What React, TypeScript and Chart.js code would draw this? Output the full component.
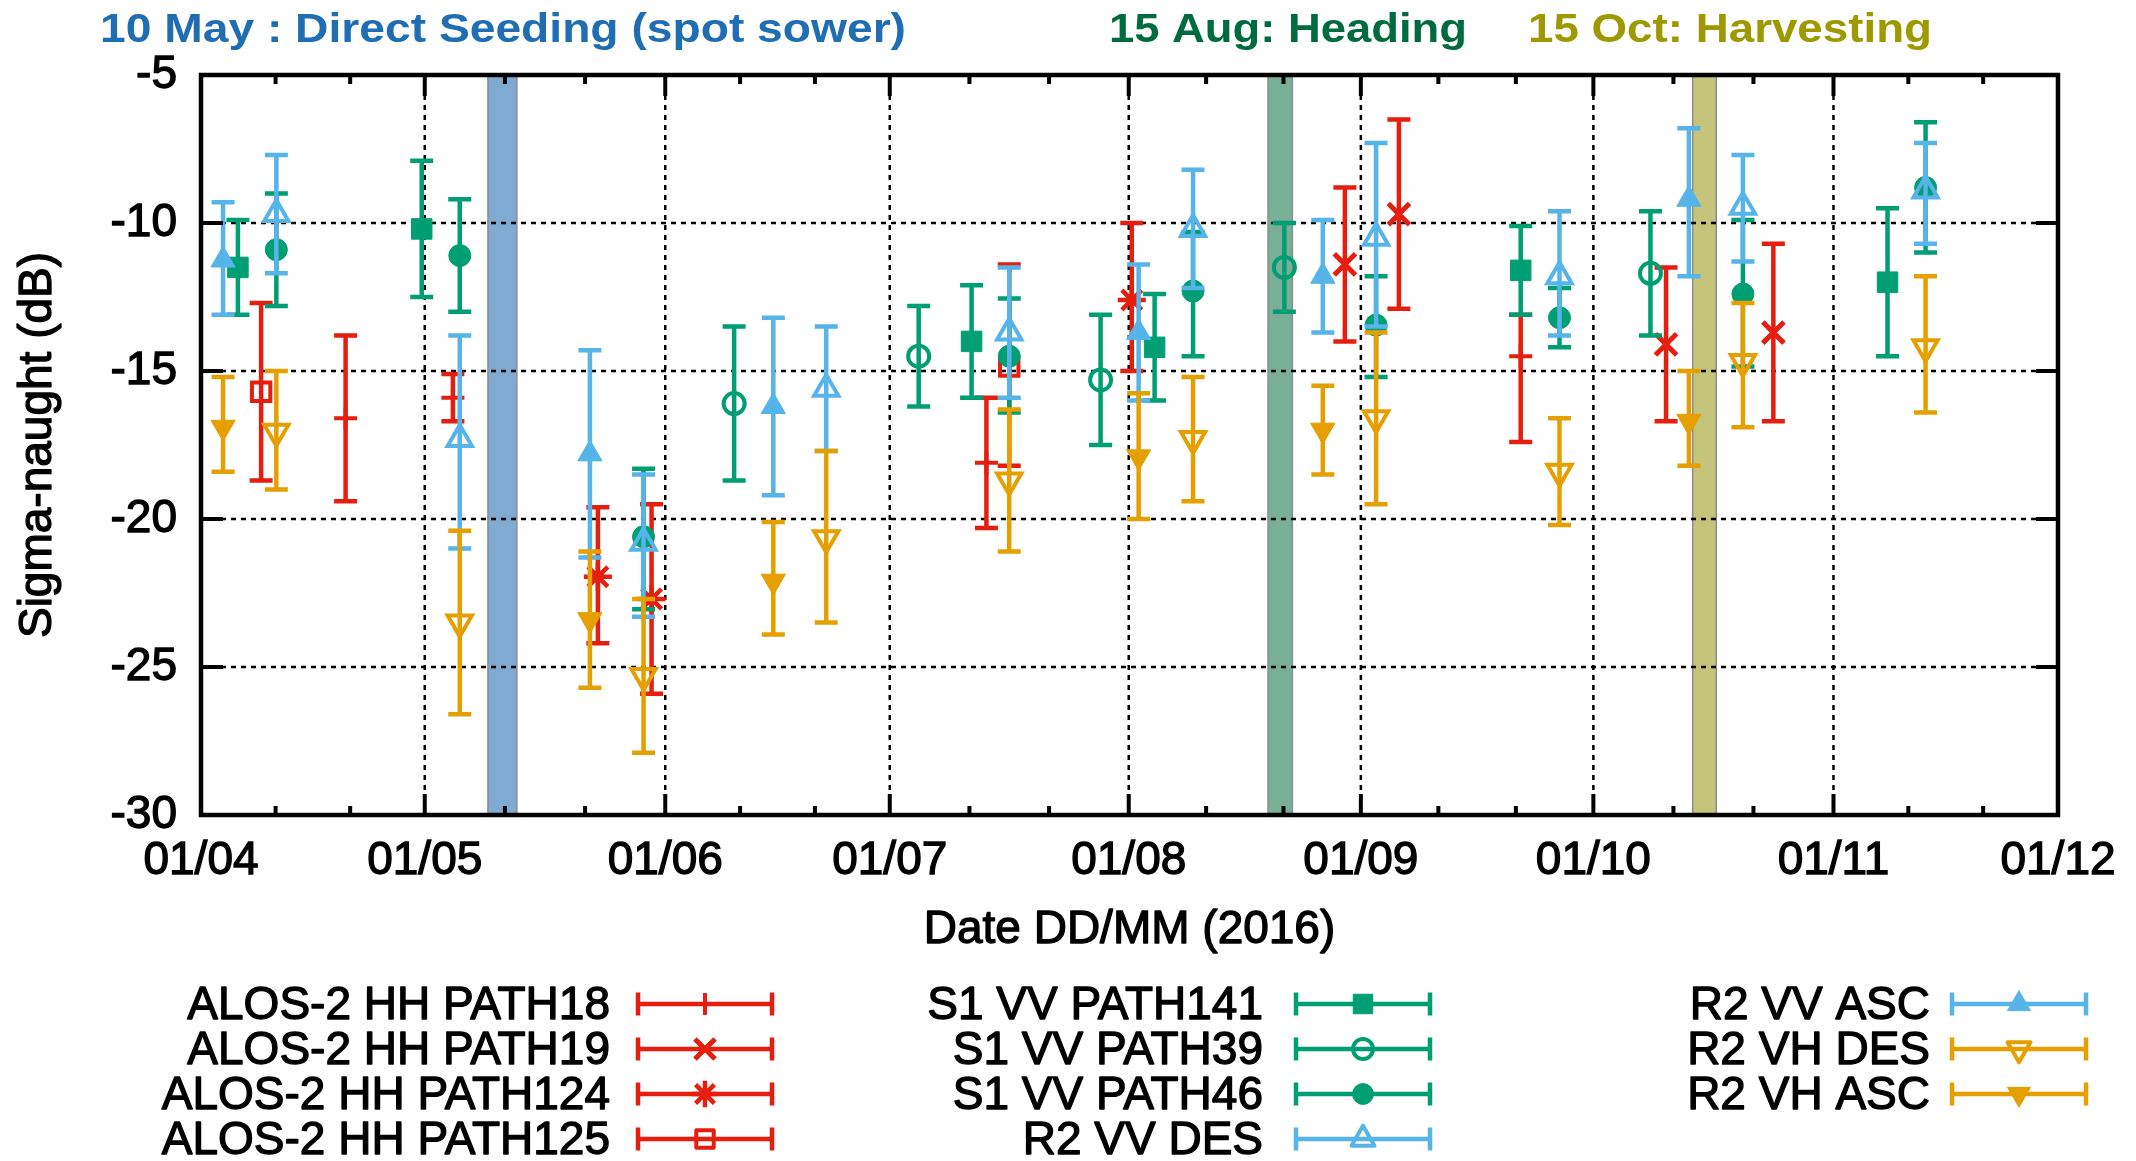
import React, { useEffect, useRef } from 'react';
import { Chart, registerables } from 'chart.js';
import { drawPoint } from 'chart.js/helpers';

Chart.register(...registerables);

// ---------- axis definitions (x in days after 01/04/2016) ----------
const monthTickDay = [0, 29.4, 61.0, 90.5, 121.9, 152.4, 182.95, 214.5, 244];
const monthTickLabels = ['01/04', '01/05', '01/06', '01/07', '01/08', '01/09', '01/10', '01/11', '01/12'];
const yMin = -30;
const yMax = -5;
const yStep = 5;
const xTitle = 'Date DD/MM (2016)';
const yTitle = 'Sigma-naught (dB)';

// ---------- crop-stage bands ----------
const bandStartDay = [37.7, 140.2, 196.0];
const bandEndDay = [41.5, 143.4, 199.1];
const phaseTexts = ['10 May : Direct Seeding (spot sower)', '15 Aug: Heading', '15 Oct: Harvesting'];

// ---------- series data ----------
// ALOS-2 HH PATH18
const p18Day = [19.0, 33.1, 103.2, 173.4];
const p18Mean = [-16.6, -15.9, -18.1, -14.5];
const p18High = [-13.8, -15.1, -15.9, -13.1];
const p18Low = [-19.4, -16.7, -20.3, -17.4];
// ALOS-2 HH PATH19
const p19Day = [150.3, 157.4, 192.5, 206.6];
const p19Mean = [-11.4, -9.7, -14.1, -13.7];
const p19High = [-8.8, -6.5, -11.5, -10.7];
const p19Low = [-14.0, -12.9, -16.7, -16.7];
// ALOS-2 HH PATH124
const p124Day = [52.15, 59.2, 122.3];
const p124Mean = [-21.95, -22.7, -12.6];
const p124High = [-19.6, -19.5, -10.0];
const p124Low = [-24.2, -25.9, -15.0];
// ALOS-2 HH PATH125
const p125Day = [7.9, 106.2];
const p125Mean = [-15.7, -14.85];
const p125High = [-12.7, -11.4];
const p125Low = [-18.7, -18.2];
// S1 VV PATH141
const s141Day = [4.85, 29.0, 101.25, 125.3, 173.4, 221.6];
const s141Mean = [-11.5, -10.2, -14.0, -14.2, -11.6, -12.0];
const s141High = [-9.9, -7.9, -12.1, -12.4, -10.1, -9.5];
const s141Low = [-13.1, -12.5, -15.9, -16.0, -13.1, -14.5];
// S1 VV PATH39
const s39Day = [70.05, 94.3, 118.2, 142.35, 190.45];
const s39Mean = [-16.1, -14.5, -15.3, -11.5, -11.7];
const s39High = [-13.5, -12.8, -13.1, -10.0, -9.6];
const s39Low = [-18.7, -16.2, -17.5, -13.0, -13.8];
// S1 VV PATH46
const s46Day = [9.9, 34.0, 58.15, 106.2, 130.35, 154.4, 178.5, 202.6, 226.6];
const s46Mean = [-10.9, -11.1, -20.6, -14.5, -12.3, -13.45, -13.2, -12.4, -8.8];
const s46High = [-9.0, -9.2, -18.3, -12.55, -10.3, -11.8, -12.2, -9.9, -6.6];
const s46Low = [-12.8, -13.0, -23.05, -16.4, -14.5, -15.2, -14.2, -14.85, -11.0];
// R2 descending pass (VV and VH share dates)
const r2DesDay = [9.9, 34.0, 58.15, 82.15, 106.2, 130.35, 154.4, 178.5, 202.6, 226.6];
const vvDesMean = [-9.7, -17.3, -20.8, -15.6, -13.7, -10.2, -10.5, -11.8, -9.45, -8.9];
const vvDesHigh = [-7.7, -13.8, -18.5, -13.5, -11.5, -8.2, -7.3, -9.6, -7.7, -7.3];
const vvDesLow = [-11.7, -21.0, -23.3, -17.7, -15.9, -12.2, -13.5, -13.8, -11.3, -10.7];
const vhDesMean = [-17.05, -23.5, -25.3, -20.65, -18.7, -17.3, -16.6, -18.4, -14.7, -14.2];
const vhDesHigh = [-15.0, -20.4, -22.7, -17.7, -16.3, -15.2, -13.7, -16.6, -12.7, -11.8];
const vhDesLow = [-19.0, -26.6, -27.9, -23.5, -21.1, -19.4, -19.5, -20.2, -16.9, -16.4];
// R2 ascending pass (VV and VH share dates)
const r2AscDay = [2.9, 51.1, 75.2, 123.2, 147.4, 195.5];
const vvAscMean = [-11.25, -17.8, -16.2, -13.7, -11.8, -9.2];
const vvAscHigh = [-9.3, -14.3, -13.2, -11.4, -9.9, -6.8];
const vvAscLow = [-13.1, -21.3, -19.2, -16.0, -13.7, -11.8];
const vhAscMean = [-16.9, -23.4, -22.1, -17.9, -17.0, -16.7];
const vhAscHigh = [-15.2, -21.1, -20.1, -15.75, -15.5, -15.0];
const vhAscLow = [-18.4, -25.7, -23.9, -20.0, -18.5, -18.2];

// ---------- styles ----------
const RED = '#E51E10';
const GREEN = '#009E73';
const SKY = '#56B4E9';
const ORANGE = '#E69F00';
const bandColors = ['#7FAAD1', '#78AF96', '#C4C47B'];
const phaseColors = ['#1F6DB3', '#006B3F', '#9C9A00'];
const FONT = '"Liberation Sans", Arial, sans-serif';

const series = [
  { label: 'ALOS-2 HH PATH18', days: p18Day, mean: p18Mean, low: p18Low, high: p18High, color: RED, style: 'cross', radius: 11.5, filled: false, rot: 0, bw: 4 },
  { label: 'ALOS-2 HH PATH19', days: p19Day, mean: p19Mean, low: p19Low, high: p19High, color: RED, style: 'crossRot', radius: 15, filled: false, rot: 0, bw: 5 },
  { label: 'ALOS-2 HH PATH124', days: p124Day, mean: p124Mean, low: p124Low, high: p124High, color: RED, style: 'star', radius: 14, filled: false, rot: 0, bw: 4.5 },
  { label: 'ALOS-2 HH PATH125', days: p125Day, mean: p125Mean, low: p125Low, high: p125High, color: RED, style: 'rect', radius: 13, filled: false, rot: 0, bw: 4 },
  { label: 'S1 VV PATH141', days: s141Day, mean: s141Mean, low: s141Low, high: s141High, color: GREEN, style: 'rect', radius: 14.5, filled: true, rot: 0, bw: 1 },
  { label: 'S1 VV PATH39', days: s39Day, mean: s39Mean, low: s39Low, high: s39High, color: GREEN, style: 'circle', radius: 10.5, filled: false, rot: 0, bw: 4 },
  { label: 'S1 VV PATH46', days: s46Day, mean: s46Mean, low: s46Low, high: s46High, color: GREEN, style: 'circle', radius: 11, filled: true, rot: 0, bw: 1 },
  { label: 'R2 VV DES', days: r2DesDay, mean: vvDesMean, low: vvDesLow, high: vvDesHigh, color: SKY, style: 'triangle', radius: 14, filled: false, rot: 0, bw: 4 },
  { label: 'R2 VV ASC', days: r2AscDay, mean: vvAscMean, low: vvAscLow, high: vvAscHigh, color: SKY, style: 'triangle', radius: 14, filled: true, rot: 0, bw: 1 },
  { label: 'R2 VH DES', days: r2DesDay, mean: vhDesMean, low: vhDesLow, high: vhDesHigh, color: ORANGE, style: 'triangle', radius: 14, filled: false, rot: 180, bw: 4 },
  { label: 'R2 VH ASC', days: r2AscDay, mean: vhAscMean, low: vhAscLow, high: vhAscHigh, color: ORANGE, style: 'triangle', radius: 14, filled: true, rot: 180, bw: 1 },
];

// ---------- layout constants ----------
const CAP = 11.5;
const BAR_W = 4.5;
const TEXT_STROKE = 1.3;
const legendCols = [[0, 1, 2, 3], [4, 5, 6, 7], [8, 9, 10]];
const legendTextRight = [610, 1263, 1930];
const legendSampleStart = [638, 1296, 1952];
const legendSampleLen = 134;
const legendRowY = [1004, 1049, 1094, 1139];
const legendMarkerScale = 0.95;
const phaseX = [100, 1109, 1528];
const phaseW = [806, 358, 404];
const phaseBaseline = 42;

const boldText = (ctx: CanvasRenderingContext2D, txt: string, x: number, y: number) => {
  ctx.lineWidth = TEXT_STROKE;
  ctx.lineJoin = 'round';
  ctx.strokeStyle = ctx.fillStyle as string;
  ctx.strokeText(txt, x, y);
  ctx.fillText(txt, x, y);
};

const framePlugin = {
  id: 'gnuframe',
  beforeDatasetsDraw(chart: any) {
    const { ctx, chartArea: a, scales } = chart;
    const xs = scales.x;
    const ys = scales.y;
    ctx.save();
    bandStartDay.forEach((s, i) => {
      const x1 = xs.getPixelForValue(s);
      const x2 = xs.getPixelForValue(bandEndDay[i]);
      ctx.fillStyle = bandColors[i];
      ctx.fillRect(x1, a.top, x2 - x1, a.bottom - a.top);
      ctx.strokeStyle = '#8c8c8c';
      ctx.lineWidth = 1.5;
      ctx.strokeRect(x1, a.top, x2 - x1, a.bottom - a.top);
    });
    ctx.strokeStyle = '#000';
    ctx.lineWidth = 2.5;
    ctx.setLineDash([5, 5]);
    xs.ticks.forEach((t: any) => {
      const px = xs.getPixelForValue(t.value);
      if (px <= a.left + 2 || px >= a.right - 2) return;
      ctx.beginPath();
      ctx.moveTo(px, a.top);
      ctx.lineTo(px, a.bottom);
      ctx.stroke();
    });
    ys.ticks.forEach((t: any) => {
      const py = ys.getPixelForValue(t.value);
      if (py <= a.top + 2 || py >= a.bottom - 2) return;
      ctx.beginPath();
      ctx.moveTo(a.left, py);
      ctx.lineTo(a.right, py);
      ctx.stroke();
    });
    ctx.restore();
  },
  beforeDatasetDraw(chart: any, args: any) {
    const ds = chart.data.datasets[args.index];
    const { ctx, scales } = chart;
    const xs = scales.x;
    const ys = scales.y;
    ctx.save();
    ctx.strokeStyle = ds.borderColor;
    ctx.lineWidth = BAR_W;
    ctx.lineCap = 'butt';
    ds.data.forEach((p: any) => {
      const px = xs.getPixelForValue(p.x);
      const yh = ys.getPixelForValue(p.hi);
      const yl = ys.getPixelForValue(p.lo);
      ctx.beginPath();
      ctx.moveTo(px, yh);
      ctx.lineTo(px, yl);
      ctx.moveTo(px - CAP, yh);
      ctx.lineTo(px + CAP, yh);
      ctx.moveTo(px - CAP, yl);
      ctx.lineTo(px + CAP, yl);
      ctx.stroke();
    });
    ctx.restore();
  },
  afterDraw(chart: any) {
    const { ctx, chartArea: a, scales } = chart;
    const xs = scales.x;
    const ys = scales.y;
    ctx.save();
    // frame
    ctx.strokeStyle = '#000';
    ctx.lineWidth = 4.5;
    ctx.strokeRect(a.left, a.top, a.right - a.left, a.bottom - a.top);
    // ticks (inward, mirrored)
    ctx.lineWidth = 4;
    const majors = xs.ticks.map((t: any) => xs.getPixelForValue(t.value));
    const vline = (px: number, len: number) => {
      ctx.beginPath();
      ctx.moveTo(px, a.bottom);
      ctx.lineTo(px, a.bottom - len);
      ctx.moveTo(px, a.top);
      ctx.lineTo(px, a.top + len);
      ctx.stroke();
    };
    majors.forEach((px: number, i: number) => {
      vline(px, 21);
      if (i < majors.length - 1) {
        const step = (majors[i + 1] - px) / 3;
        vline(px + step, 9);
        vline(px + 2 * step, 9);
      }
    });
    ys.ticks.forEach((t: any) => {
      const py = ys.getPixelForValue(t.value);
      ctx.beginPath();
      ctx.moveTo(a.left, py);
      ctx.lineTo(a.left + 22, py);
      ctx.moveTo(a.right, py);
      ctx.lineTo(a.right - 22, py);
      ctx.stroke();
    });
    // phase annotations
    ctx.textBaseline = 'alphabetic';
    ctx.textAlign = 'left';
    phaseTexts.forEach((txt, i) => {
      ctx.font = 'bold 40px "Liberation Sans Narrow", "Liberation Sans", Arial, sans-serif';
      const w = ctx.measureText(txt).width;
      ctx.save();
      ctx.translate(phaseX[i], phaseBaseline);
      ctx.scale(phaseW[i] / w, 1);
      ctx.fillStyle = phaseColors[i];
      ctx.fillText(txt, 0, 0);
      ctx.restore();
    });
    // axis titles
    ctx.fillStyle = '#000';
    ctx.font = `46px ${FONT}`;
    ctx.textAlign = 'center';
    ctx.textBaseline = 'middle';
    boldText(ctx, xTitle, (a.left + a.right) / 2, 930);
    ctx.save();
    ctx.translate(38, (a.top + a.bottom) / 2);
    ctx.rotate(-Math.PI / 2);
    boldText(ctx, yTitle, 0, 0);
    ctx.restore();
    // legend
    ctx.font = `46px ${FONT}`;
    ctx.textAlign = 'right';
    ctx.textBaseline = 'middle';
    legendCols.forEach((col, c) => {
      col.forEach((di, r) => {
        const ds = chart.data.datasets[di];
        const y = legendRowY[r];
        ctx.fillStyle = '#000';
        boldText(ctx, ds.label, legendTextRight[c], y + 2);
        const x0 = legendSampleStart[c];
        const x1 = x0 + legendSampleLen;
        ctx.strokeStyle = ds.borderColor;
        ctx.lineWidth = BAR_W;
        ctx.beginPath();
        ctx.moveTo(x0, y);
        ctx.lineTo(x1, y);
        ctx.moveTo(x0, y - CAP);
        ctx.lineTo(x0, y + CAP);
        ctx.moveTo(x1, y - CAP);
        ctx.lineTo(x1, y + CAP);
        ctx.stroke();
        ctx.fillStyle = ds.pointBackgroundColor;
        ctx.lineWidth = ds.pointBorderWidth;
        drawPoint(ctx, { pointStyle: ds.pointStyle, rotation: ds.pointRotation, radius: ds.pointRadius * legendMarkerScale, borderWidth: ds.pointBorderWidth }, (x0 + x1) / 2, y);
      });
    });
    ctx.restore();
  },
};

export default function App() {
  const ref = useRef<HTMLCanvasElement | null>(null);
  useEffect(() => {
    if (!ref.current) return;
    const chart = new Chart(ref.current, {
      type: 'scatter',
      data: {
        datasets: series.map((s, i) => ({
          label: s.label,
          data: s.days.map((d, j) => ({ x: d, y: s.mean[j], lo: s.low[j], hi: s.high[j] })),
          pointStyle: s.style,
          pointRadius: s.radius,
          pointHoverRadius: s.radius,
          pointRotation: s.rot,
          pointBorderWidth: s.bw,
          borderColor: s.color,
          pointBorderColor: s.color,
          backgroundColor: s.filled ? s.color : 'rgba(0,0,0,0)',
          pointBackgroundColor: s.filled ? s.color : 'rgba(0,0,0,0)',
          showLine: false,
          order: -i,
        })) as any,
      },
      options: {
        responsive: false,
        devicePixelRatio: 1,
        animation: false,
        events: [],
        layout: { padding: { left: 0, right: 78, top: 75, bottom: 0 } },
        plugins: { legend: { display: false }, tooltip: { enabled: false }, title: { display: false } },
        scales: {
          x: {
            type: 'linear',
            min: monthTickDay[0],
            max: monthTickDay[monthTickDay.length - 1],
            afterBuildTicks: (s: any) => {
              s.ticks = monthTickDay.map((d) => ({ value: d }));
            },
            afterFit: (s: any) => {
              s.height = 346;
            },
            grid: { display: false, drawTicks: false, tickLength: 0 },
            border: { display: false },
            ticks: {
              autoSkip: false,
              maxRotation: 0,
              minRotation: 0,
              padding: 19,
              color: '#000',
              textStrokeColor: '#000',
              textStrokeWidth: TEXT_STROKE,
              font: { family: FONT, size: 46 },
              callback: (_v: any, i: number) => monthTickLabels[i],
            },
          },
          y: {
            type: 'linear',
            min: yMin,
            max: yMax,
            afterFit: (s: any) => {
              s.width = 201;
            },
            grid: { display: false, drawTicks: false, tickLength: 0 },
            border: { display: false },
            ticks: { stepSize: yStep, padding: 24, color: '#000', textStrokeColor: '#000', textStrokeWidth: TEXT_STROKE, font: { family: FONT, size: 46 } },
          },
        },
      },
      plugins: [framePlugin],
    } as any);
    return () => chart.destroy();
  }, []);
  return (
    <div style={{ position: 'fixed', left: 0, top: 0, width: 2136, height: 1161, background: '#fff' }}>
      <canvas ref={ref} width={2136} height={1161} style={{ display: 'block' }} />
    </div>
  );
}
